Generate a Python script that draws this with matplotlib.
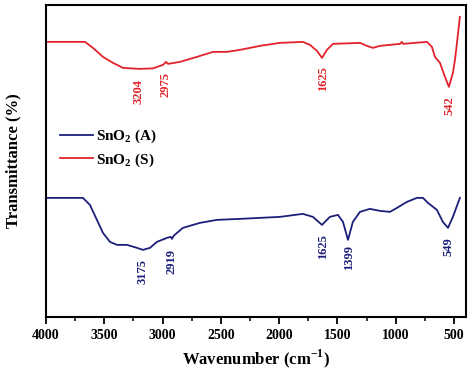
import numpy as np
import matplotlib
matplotlib.use("Agg")
import matplotlib.pyplot as plt

plt.rcParams['font.family'] = ['Liberation Serif', 'DejaVu Serif']
plt.rcParams['font.weight'] = 'bold'
plt.rcParams['mathtext.fontset'] = 'custom'
plt.rcParams['mathtext.rm'] = 'Liberation Serif'
plt.rcParams['mathtext.bf'] = 'Liberation Serif:bold'

# SnO2 (S) - red spectrum (arbitrary transmittance units)
wn_s = [4000, 3800, 3665, 3597, 3511, 3425, 3339, 3194, 3082, 2996, 2970, 2953,
        2850, 2705, 2567, 2447, 2336, 2164, 1993, 1796, 1735, 1675, 1632, 1590,
        1538, 1306, 1247, 1195, 1135, 963, 946, 937, 732, 689, 663, 620,
        577, 543, 509, 491, 474, 449]
t_s = [275, 275, 275, 269, 260, 254, 249, 248, 248.5, 252, 255, 253,
       255, 260, 265, 265, 267, 271, 274, 275, 272, 266, 259, 267,
       273, 274, 271, 269, 271, 273, 275, 273, 275, 270, 260, 254,
       240, 230, 244, 257, 274, 300]

# SnO2 (A) - blue spectrum
wn_a = [4000, 3683, 3623, 3563, 3511, 3451, 3391, 3305, 3219, 3168, 3108, 3048,
        2962, 2930, 2919, 2905, 2876, 2825, 2679, 2533, 2336, 1993, 1796, 1710,
        1632, 1564, 1495, 1452, 1409, 1367, 1306, 1221, 1135, 1049, 989, 903,
        818, 766, 723, 646, 595, 551, 509, 449]
t_a = [119, 119, 112, 97, 84, 75, 72, 72, 69, 67, 69, 75,
       79, 80, 78, 81, 84, 89, 94, 97, 98, 100, 103, 100,
       92, 100, 102, 95, 77, 95, 105, 108, 106, 105, 109, 115,
       119, 119, 114, 107, 95, 89, 100, 119]

peaks_s = [3204, 2975, 1625, 542]
peaks_a = [3175, 2919, 1625, 1399, 549]

red = '#e3232b'
blue = '#1c1f7a'

fig = plt.figure(figsize=(4.74, 3.75), dpi=100)
ax = fig.add_axes([0.097, 0.155, 0.886, 0.832])

ax.plot(wn_a, t_a, color=blue, lw=1.3, label=r'SnO$_{\mathbf{2}}$ (A)')
ax.plot(wn_s, t_s, color=red, lw=1.3, label=r'SnO$_{\mathbf{2}}$ (S)')

for p in peaks_s:
    yv = np.interp(p, wn_s[::-1], t_s[::-1])
    ax.annotate(str(p), xy=(p, yv), xytext=(0, -7), textcoords='offset points',
                rotation=90, ha='center', va='top', color=red, fontsize=9)
for p in peaks_a:
    yv = np.interp(p, wn_a[::-1], t_a[::-1])
    ax.annotate(str(p), xy=(p, yv), xytext=(0, -7), textcoords='offset points',
                rotation=90, ha='center', va='top', color=blue, fontsize=9)

ax.set_xlim(4000, 397)
ax.set_ylim(0, 312)
ax.set_xticks([4000, 3500, 3000, 2500, 2000, 1500, 1000, 500])
ax.set_xticks(np.arange(3750, 400, -500), minor=True)
ax.set_yticks([])
ax.tick_params(axis='x', which='major', length=5, width=1.3, labelsize=10)
ax.tick_params(axis='x', which='minor', length=3, width=1.1)
for s in ax.spines.values():
    s.set_linewidth(1.5)

ax.set_xlabel(r'Wavenumber (cm$^{\mathbf{-1}}$)', fontsize=12, fontweight='bold', labelpad=4)
ax.set_ylabel('Transmittance (%)', fontsize=12, fontweight='bold', labelpad=18)

ax.legend(loc='upper left', bbox_to_anchor=(0.0, 0.65), frameon=False, fontsize=11,
          handlelength=2.2, handletextpad=0.15, labelspacing=0.4, borderaxespad=0.5)

fig.savefig('out.png', dpi=100)
